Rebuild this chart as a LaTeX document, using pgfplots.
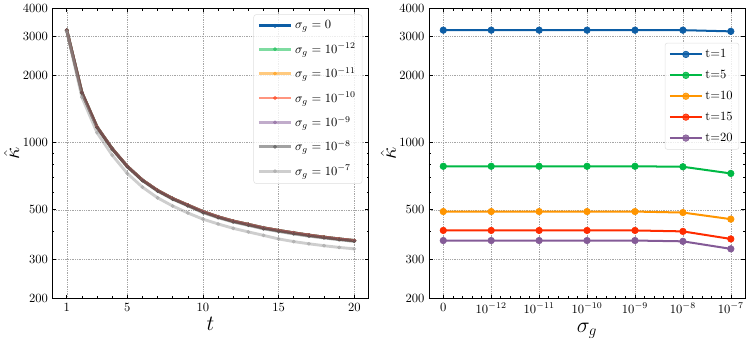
\documentclass[border=0pt]{standalone}
\usepackage{pgfplots}
\pgfplotsset{compat=1.18}
\definecolor{cblue}{HTML}{0C5DA5}
\definecolor{cgreen}{HTML}{00B945}
\definecolor{corange}{HTML}{FF9500}
\definecolor{cred}{HTML}{FF2C00}
\definecolor{cpurple}{HTML}{845B97}
\definecolor{cdgray}{HTML}{474747}
\definecolor{clgray}{HTML}{9E9E9E}

\pgfplotsset{
  every axis/.append style={
    scale only axis, width=252pt, height=231pt,
    tick align=inside, major tick length=3pt, minor tick length=1.6pt,
    tick style={black, line width=0.5pt},
    grid=major, major grid style={densely dotted, gray!70, line width=0.4pt},
    axis line style={line width=0.6pt},
    ylabel style={yshift=-4pt},
    legend cell align=left,
    legend style={draw=gray!25, rounded corners=2pt, fill=white, fill opacity=0.8,
      text opacity=1, inner sep=3pt},
  },
  legend image code/.code={\draw[mark repeat=2,mark phase=2] plot coordinates {(0cm,0cm) (0.45cm,0cm) (0.9cm,0cm)};},
}

\pgfplotstableread{
t   s0    s12   s11   s10   s9    s8    s7
1   3200  3200  3200  3200  3200  3200  3160
2   1680  1680  1680  1680  1680  1675  1600
3   1177  1177  1177  1177  1177  1172  1110
4   941   941   941   941   941   937   880
5   784   784   784   784   784   780   728
6   680   680   680   680   680   676   632
7   611   611   611   611   611   607   566
8   562   562   562   562   562   558   520
9   525   525   525   525   525   521   484
10  491   491   491   491   491   486   454
11  465   465   465   465   465   461   432
12  445   445   445   445   445   441   413
13  430   430   430   430   430   426   398
14  415   415   415   415   415   411   384
15  404   404   404   404   404   400   370
16  394   394   394   394   394   390   360
17  385   385   385   385   385   381   352
18  377   377   377   377   377   374   345
19  370   370   370   370   370   367   339
20  364   364   364   364   364   361   334
}\lefttable

\pgfplotstableread{
x  t1    t5   t10  t15  t20
0  3200  784  491  404  364
1  3200  784  491  404  364
2  3200  784  491  404  364
3  3200  784  491  404  364
4  3200  784  491  404  364
5  3200  780  486  400  361
6  3160  728  454  370  334
}\righttable

\begin{document}
\begin{tikzpicture}
\begin{axis}[
  ymode=log, ymin=200, ymax=4000,
  ytick={200,300,500,1000,2000,3000,4000},
  yticklabels={200,300,500,1000,2000,3000,4000},
  minor ytick={400,600,700,800,900},
  xmin=0.05, xmax=20.95,
  xtick={1,5,10,15,20}, minor xtick={2,3,4,6,7,8,9,11,12,13,14,16,17,18,19},
  xlabel={\LARGE$t$}, ylabel={\LARGE$\hat{\kappa}$},
  xlabel style={yshift=2pt},
  legend style={at={(0.98,0.98)}, anchor=north east, font=\normalsize, row sep=5.8pt},
  lplot/.style={line width=2.3pt, mark=*, mark size=1.4pt, mark options={line width=0.3pt}},
]
\addplot[cblue, lplot] table[x=t,y=s0] {\lefttable};
\addlegendentry{$\sigma_g=0$}
\addplot[cgreen, opacity=0.5, lplot] table[x=t,y=s12] {\lefttable};
\addlegendentry{$\sigma_g=10^{-12}$}
\addplot[corange, opacity=0.5, lplot] table[x=t,y=s11] {\lefttable};
\addlegendentry{$\sigma_g=10^{-11}$}
\addplot[cred, opacity=0.5, lplot] table[x=t,y=s10] {\lefttable};
\addlegendentry{$\sigma_g=10^{-10}$}
\addplot[cpurple, opacity=0.5, lplot] table[x=t,y=s9] {\lefttable};
\addlegendentry{$\sigma_g=10^{-9}$}
\addplot[cdgray, opacity=0.5, lplot] table[x=t,y=s8] {\lefttable};
\addlegendentry{$\sigma_g=10^{-8}$}
\addplot[clgray, opacity=0.5, lplot] table[x=t,y=s7] {\lefttable};
\addlegendentry{$\sigma_g=10^{-7}$}
\end{axis}

\begin{axis}[at={(300pt,0pt)},
  ymode=log, ymin=200, ymax=4000,
  ytick={200,300,500,1000,2000,3000,4000},
  yticklabels={200,300,500,1000,2000,3000,4000},
  minor ytick={400,600,700,800,900},
  xmin=-0.3, xmax=6.3,
  xtick={0,...,6},
  xticklabels={$0$,$10^{-12}$,$10^{-11}$,$10^{-10}$,$10^{-9}$,$10^{-8}$,$10^{-7}$},
  minor x tick num=4,
  xlabel={\LARGE$\sigma_g$}, ylabel={\LARGE$\hat{\kappa}$},
  xlabel style={yshift=-1pt},
  legend style={at={(0.981,0.882)}, anchor=north east, font=\normalsize, row sep=4.5pt},
  rplot/.style={line width=1.6pt, mark=*, mark size=2.6pt, mark options={line width=0.5pt}},
]
\addplot[cblue, rplot] table[x=x,y=t1] {\righttable};
\addlegendentry{t=1}
\addplot[cgreen, rplot] table[x=x,y=t5] {\righttable};
\addlegendentry{t=5}
\addplot[corange, rplot] table[x=x,y=t10] {\righttable};
\addlegendentry{t=10}
\addplot[cred, rplot] table[x=x,y=t15] {\righttable};
\addlegendentry{t=15}
\addplot[cpurple, rplot] table[x=x,y=t20] {\righttable};
\addlegendentry{t=20}
\end{axis}
\end{tikzpicture}
\end{document}
